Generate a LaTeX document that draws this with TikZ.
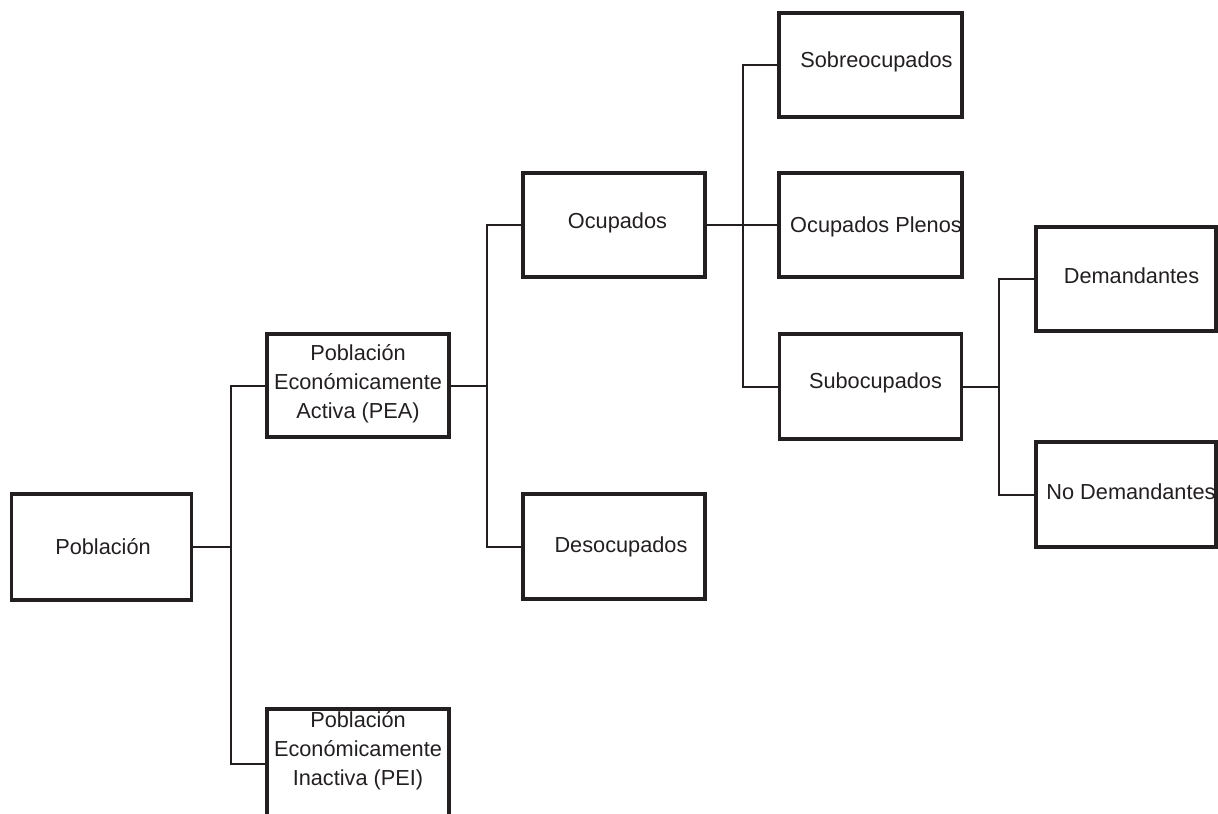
\documentclass[tikz,border=0pt]{standalone}
\usepackage{fontspec}
\setmainfont{Liberation Sans}
\definecolor{ink}{HTML}{231F20}
\begin{document}
\begin{tikzpicture}[x=0.75pt,y=-0.75pt,
  box/.style={draw=ink, line width=2.3pt, inner sep=0pt, fill=none},
  txt/.style={text=ink, inner sep=0pt, align=center, font=\fontsize{16.3}{21.75}\selectfont},
  link/.style={draw=ink, line width=1.5pt}]
\useasboundingbox (0,0) rectangle (1218,814);
% boxes
\node[box, minimum width=180.5*0.75pt, minimum height=106*0.75pt] (pob) at (101.5,547) {};
\node[box, minimum width=182*0.75pt, minimum height=103*0.75pt] (pea) at (358,385.5) {};
\node[box, minimum width=182*0.75pt, minimum height=109*0.75pt] (pei) at (358,763.5) {};
\node[box, minimum width=182*0.75pt, minimum height=104*0.75pt] (ocu) at (614,225) {};
\node[box, minimum width=182*0.75pt, minimum height=105*0.75pt] (des) at (614,546.5) {};
\node[box, minimum width=183*0.75pt, minimum height=104*0.75pt] (sob) at (870.5,65) {};
\node[box, minimum width=183*0.75pt, minimum height=104*0.75pt] (ple) at (870.5,225) {};
\node[box, minimum width=182*0.75pt, minimum height=105*0.75pt] (sub) at (870.5,386.5) {};
\node[box, minimum width=180*0.75pt, minimum height=104*0.75pt] (dem) at (1126,279) {};
\node[box, minimum width=180*0.75pt, minimum height=105*0.75pt] (nod) at (1126,494.5) {};
% texts
\node[txt] (tpob) at (103,547) {Población};
\node[txt] (tpea) at (358,384) {Población\\Económicamente\\Activa (PEA)};
\node[txt] (tpei) at (358,751) {Población\\Económicamente\\Inactiva (PEI)};
\node[txt] (tocu) at (617.5,223) {Ocupados};
\node[txt] (tdes) at (621,547) {Desocupados};
\node[txt] (tsob) at (876.5,62) {Sobreocupados};
\node[txt] (tple) at (876,227) {Ocupados Plenos};
\node[txt] (tsub) at (875.5,383) {Subocupados};
\node[txt] (tdem) at (1131.5,276) {Demandantes};
\node[txt] (tnod) at (1131,492) {No Demandantes};
% bus coordinates
\coordinate (b1) at (230.5,547);
\coordinate (b2) at (487,385.5);
\coordinate (b3) at (743,225);
\coordinate (b4) at (999,386.5);
% connectors
\draw[link] (pob.east) -- (b1);
\draw[link] (pea.west) -| (b1) |- (pei.west);
\draw[link] (pea.east) -- (b2);
\draw[link] (ocu.west) -| (b2) |- (des.west);
\draw[link] (ocu.east) -- (ple.west);
\draw[link] (sob.west) -| (b3) |- (sub.west);
\draw[link] (sub.east) -- (b4);
\draw[link] (dem.west) -| (b4) |- (nod.west);
\end{tikzpicture}
\end{document}
